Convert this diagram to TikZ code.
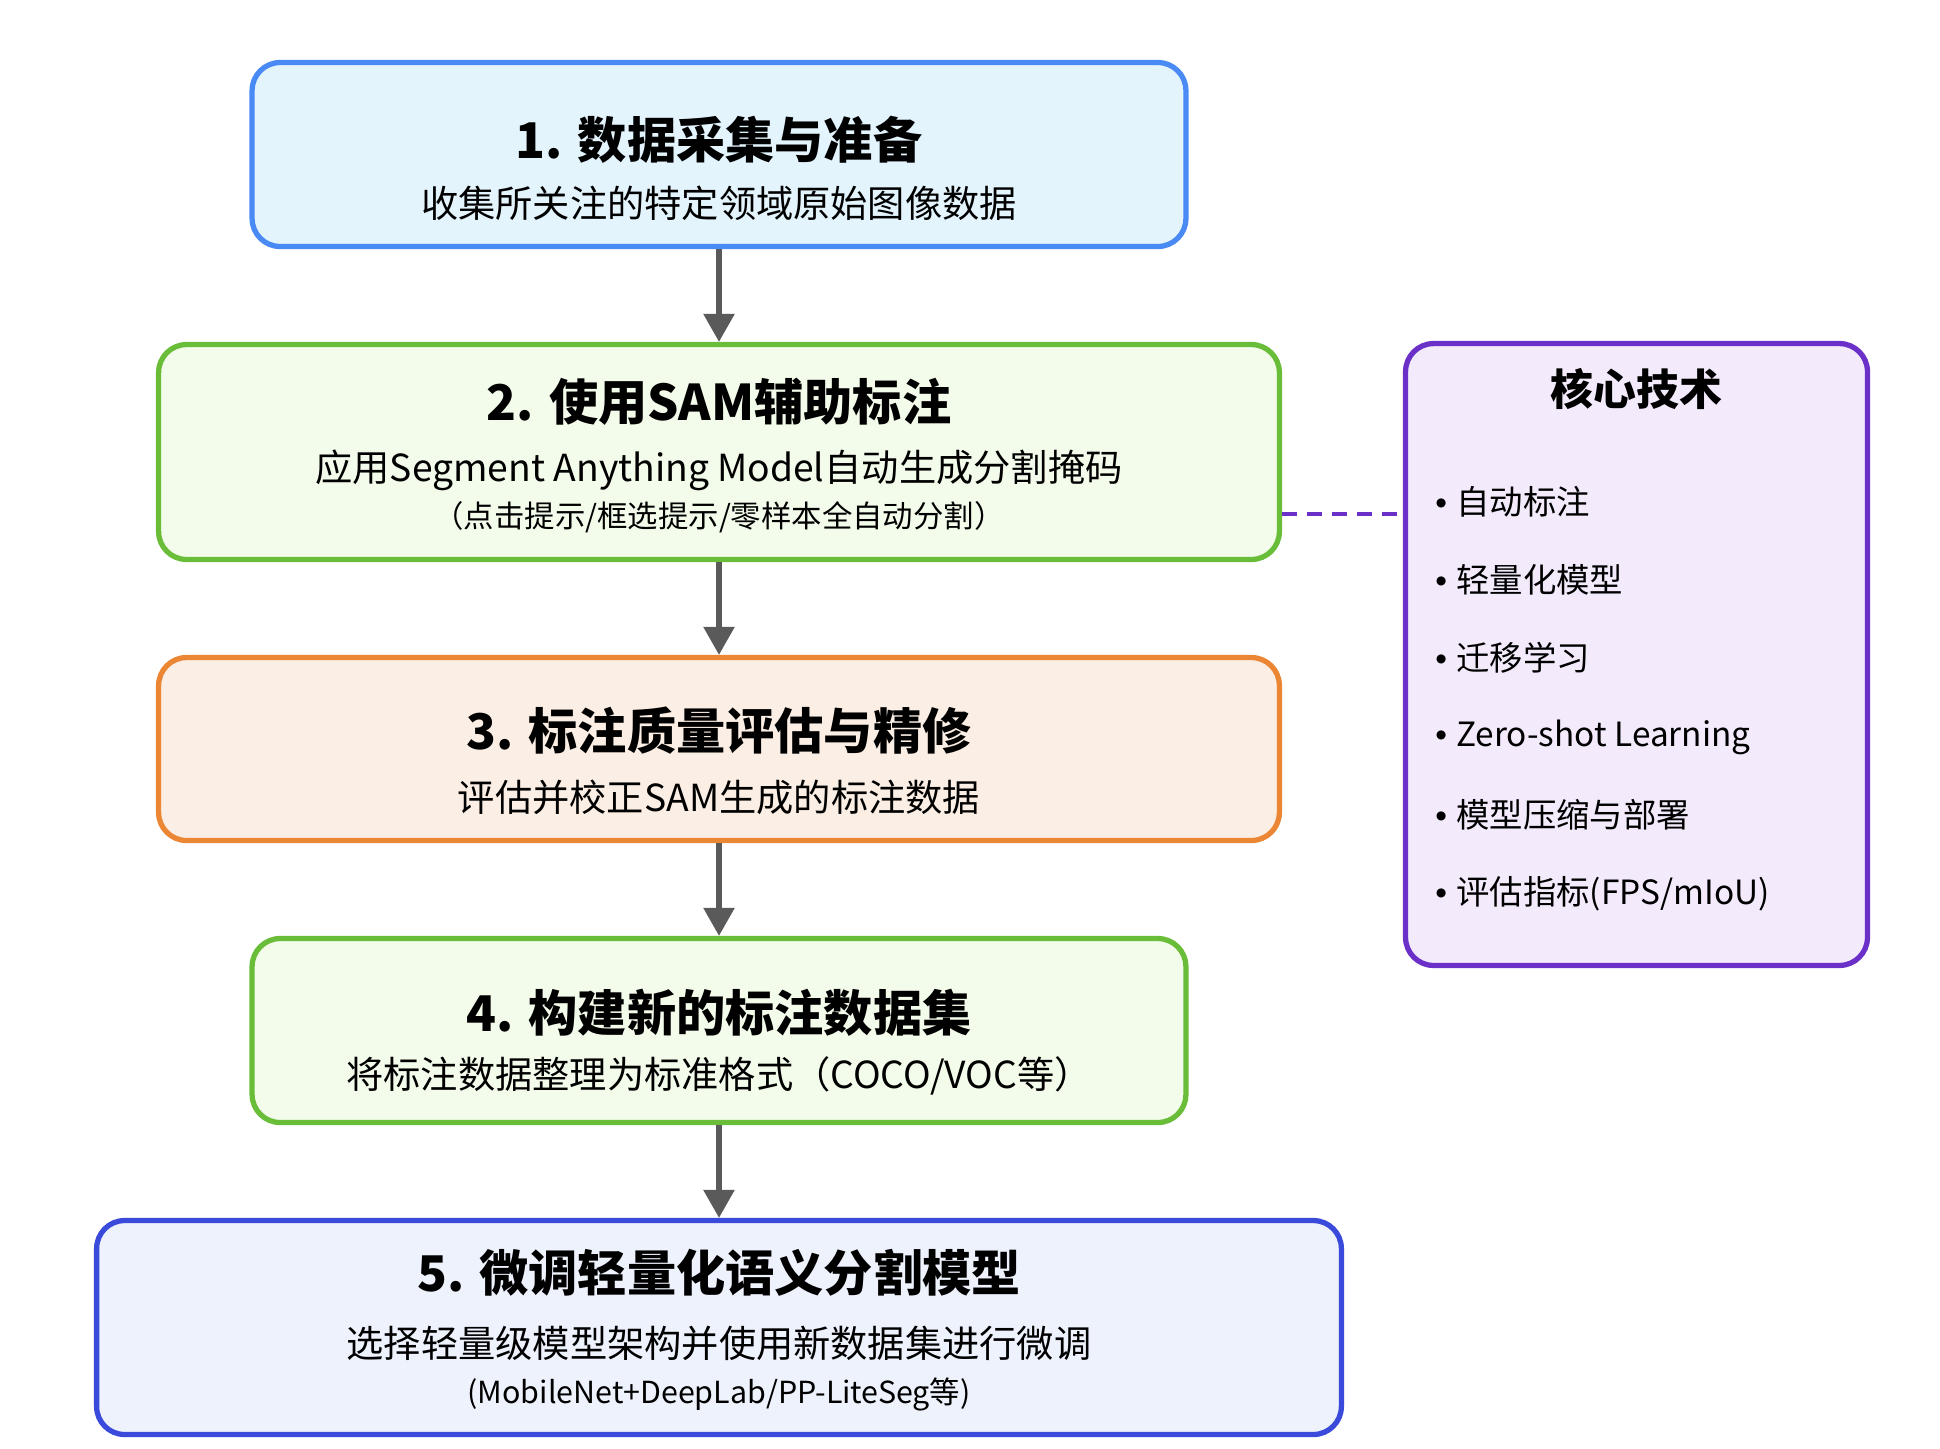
\documentclass[tikz,border=0pt]{standalone}
\usepackage{fontspec}
\setmainfont{Noto Sans CJK SC}
\newfontfamily\dotfont{Liberation Sans}
\usetikzlibrary{arrows.meta}

\definecolor{blueline}{HTML}{4A8AF4}
\definecolor{bluefill}{HTML}{E3F4FD}
\definecolor{greenline}{HTML}{6ABD38}
\definecolor{greenfill}{HTML}{F3FCEB}
\definecolor{orangeline}{HTML}{EA8634}
\definecolor{orangefill}{HTML}{FBEEE4}
\definecolor{indigoline}{HTML}{3A4ADB}
\definecolor{indigofill}{HTML}{EEF2FC}
\definecolor{purpleline}{HTML}{6A30C8}
\definecolor{purplefill}{HTML}{F3EBFC}
\definecolor{arrowgray}{HTML}{5A5A5A}

\newcommand{\kdot}{{\dotfont •\ }}

\begin{document}
\begin{tikzpicture}[x=0.02cm,y=-0.02cm,
    head/.style={font=\fontsize{28}{32}\selectfont\bfseries},
    body/.style={font=\fontsize{21.2}{24}\selectfont},
    note/.style={font=\fontsize{17.3}{20}\selectfont},
    ktitle/.style={font=\fontsize{24.4}{28}\selectfont\bfseries},
    kitem/.style={font=\fontsize{19}{22}\selectfont,anchor=west}]
  \useasboundingbox (0,0) rectangle (1940,1448);
  \begin{scope}[every node/.style={rounded corners=0.56cm,line width=3pt,inner sep=0pt}]
    \node[draw=blueline,fill=bluefill,minimum width=18.68cm,minimum height=3.68cm] (s1) at (719,154.5) {};
    \node[draw=greenline,fill=greenfill,minimum width=22.42cm,minimum height=4.3cm] (s2) at (719,452) {};
    \node[draw=orangeline,fill=orangefill,minimum width=22.42cm,minimum height=3.66cm] (s3) at (719,749) {};
    \node[draw=greenline,fill=greenfill,minimum width=18.68cm,minimum height=3.68cm] (s4) at (719,1030.5) {};
    \node[draw=indigoline,fill=indigofill,minimum width=24.9cm,minimum height=4.28cm] (s5) at (719,1327.5) {};
    \node[draw=purpleline,fill=purplefill,minimum width=9.24cm,minimum height=12.44cm] (k) at (1636.5,654.5) {};
  \end{scope}
  \begin{scope}[every node/.style={inner sep=0pt}]
    \node[head] (t1) at (719,140) {1. 数据采集与准备};
    \node[body] (d1) at (719,203) {收集所关注的特定领域原始图像数据};
    \node[head] (t2) at (719,402) {2. 使用SAM辅助标注};
    \node[body] (d2) at (719,470) {应用Segment Anything Model自动生成分割掩码};
    \node[note] (n2) at (719,517) {（点击提示/框选提示/零样本全自动分割）};
    \node[head] (t3) at (719,731) {3. 标注质量评估与精修};
    \node[body] (d3) at (719,797) {评估并校正SAM生成的标注数据};
    \node[head] (t4) at (719,1013) {4. 构建新的标注数据集};
    \node[body] (d4) at (719,1076) {将标注数据整理为标准格式（COCO/VOC等）};
    \node[head] (t5) at (719,1273) {5. 微调轻量化语义分割模型};
    \node[body] (d5) at (719,1343) {选择轻量级模型架构并使用新数据集进行微调};
    \node[note] (n5) at (719,1394) {(MobileNet+DeepLab/PP-LiteSeg等)};
    % right panel
    \node[ktitle] (kt) at (1636.5,389) {核心技术};
    \node[kitem] (k1) at (1435,502) {\kdot 自动标注};
    \node[kitem] (k2) at (1435,580) {\kdot 轻量化模型};
    \node[kitem] (k3) at (1435,658) {\kdot 迁移学习};
    \node[kitem] (k4) at (1435,737) {\kdot Zero-shot Learning};
    \node[kitem] (k5) at (1435,815) {\kdot 模型压缩与部署};
    \node[kitem] (k6) at (1435,894) {\kdot 评估指标(FPS/mIoU)};
  \end{scope}
  \begin{scope}[every edge/.style={draw=arrowgray,line width=3.2pt,-{Triangle[width=0.6cm,length=0.56cm]}}]
    \path (s1) edge (s2);
    \path (s2) edge (s3);
    \path (s3) edge (s4);
    \path (s4) edge (s5);
  \end{scope}
  \draw[purpleline,line width=2.6pt,dash pattern=on 0.3cm off 0.2cm] ([yshift=-1.24cm]s2.east) -- ([yshift=-1.24cm]s2.east -| k.west);
\end{tikzpicture}
\end{document}
